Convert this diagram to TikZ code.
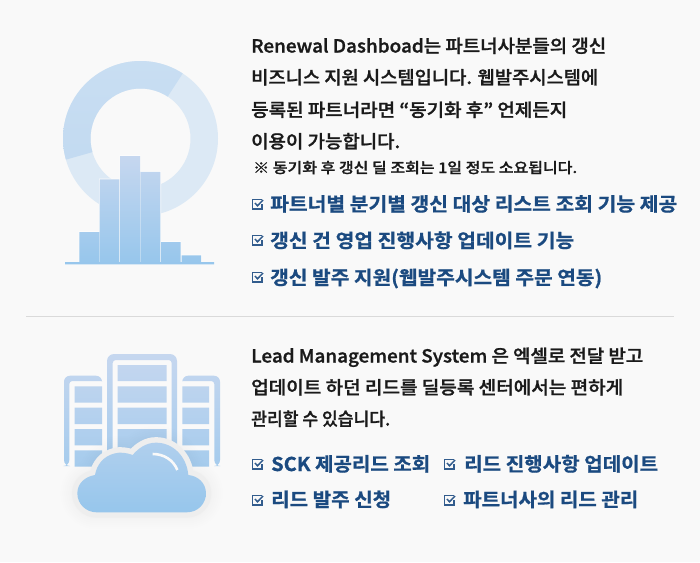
\documentclass[tikz,border=0pt]{standalone}
\usepackage{fontspec}
\usepackage{graphicx}
\setmainfont{Noto Sans CJK KR}
\newfontfamily\bodyf[FakeBold=1.2]{Noto Sans CJK KR Medium}
\newfontfamily\listf[FakeBold=0.8]{Noto Sans CJK KR Bold}
\definecolor{bg}{HTML}{F9F9F9}
\definecolor{ink}{HTML}{1A1A1A}
\definecolor{navy}{HTML}{1B4A80}
\definecolor{rule}{HTML}{DADADA}
\definecolor{ringdark}{HTML}{BFD8F0}
\definecolor{ringlight}{HTML}{DCE9F5}
\definecolor{gtop}{HTML}{C6D7EF}
\definecolor{gbot}{HTML}{96C6EC}
\definecolor{halo}{HTML}{F5F5F5}
\newcommand\fitw[2]{\resizebox{#1pt}{\height}{#2}}
\newcommand\cloudp{(170,517) -- (440,517)
    .. controls (475,517) and (498,490) .. (498,460)
    .. controls (498,430) and (475,408) .. (445,405)
    .. controls (440,350) and (400,308) .. (348,308)
    .. controls (318,308) and (295,325) .. (278,345)
    .. controls (260,338) and (240,336) .. (225,340)
    .. controls (190,348) and (170,375) .. (165,405)
    .. controls (135,410) and (112,430) .. (112,460)
    .. controls (112,492) and (138,517) .. (170,517) -- cycle}
\tikzset{
  x=1pt,y=-1pt,
  body/.style={anchor=base west,inner sep=0pt,text=ink,font=\bodyf\fontsize{18}{20}\selectfont},
  note/.style={anchor=base west,inner sep=0pt,text=ink,font=\bodyf\fontsize{14.5}{16}\selectfont},
  item/.style={anchor=base west,inner sep=0pt,text=navy,font=\listf\fontsize{19}{22}\selectfont},
  tick/.style={draw=navy!90!white,line width=1.2pt}
}
\newcommand\checkicon[2]{%
  \begin{scope}[shift={(#1,#2)}]
    \draw[tick] (10,0.5) -- (0.5,0.5) -- (0.5,10) -- (10,10) -- (10,5);
    \draw[tick,line width=1.5pt] (3,4) -- (5.5,6.8) -- (11,1);
  \end{scope}}
\begin{document}
\begin{tikzpicture}
\useasboundingbox (0,0) rectangle (700,562);
\fill[bg] (0,0) rectangle (700,562);

% donut
\fill[ringlight,even odd rule] (140.5,138.5) circle (77.5) (140.5,138.5) circle (50);
\begin{scope}
  \clip (140.5,138.5) -- (140.5+120*0.5446,138.5-120*0.8387) -- (140.5-120,138.5-120) -- (140.5-120,138.5+34) -- cycle;
  \shade[even odd rule,top color=ringdark!85!white,bottom color=ringdark] (140.5,138.5) circle (77.5) (140.5,138.5) circle (50);
\end{scope}

% bars
\fill[bg!50!white]
  (78.5,231) rectangle (99.5,264) (99,178.5) rectangle (120,264) (119.5,155) rectangle (140.5,264)
  (140,170.8) rectangle (161,264) (160.5,241) rectangle (181.2,264) (181,254.5) rectangle (202,264);
\begin{scope}
  \clip (79.3,232) rectangle (99,264) (99.7,179.3) rectangle (119.3,264) (120,156) rectangle (140,264)
    (140.7,171.8) rectangle (160.3,264) (161,242) rectangle (180.7,264) (181.7,255.3) rectangle (201,264)
    (65,262) rectangle (214,264.3);
  \shade[top color=gtop,bottom color=gbot] (60,156) rectangle (220,265);
\end{scope}

% servers
\begin{scope}
  \clip [rounded corners=6pt] (102,381) -- (102,375.7) -- (64,375.7) -- (64,466) -- (69.3,466) [rounded corners=3pt] -- (69.3,381) [sharp corners] -- cycle
     [rounded corners=6pt] (182.3,381) -- (182.3,375.7) -- (220,375.7) -- (220,466) -- (214.3,466) [rounded corners=3pt] -- (214.3,381) [sharp corners] -- cycle
     [rounded corners=7pt] (107,462) -- (107,354) -- (177,354) [sharp corners] -- (177,462) -- (171.7,462) [rounded corners=3pt] -- (171.7,360) -- (112.7,360) [sharp corners] -- (112.7,462) -- cycle
     (74.7,386.3) rectangle (102,402.7) (74.7,407.7) rectangle (102,424)
     (74.7,429) rectangle (102,445.3) (74.7,450.3) rectangle (102,466.7)
     (182.3,386.3) rectangle (209,402.7) (182.3,407.7) rectangle (209,424)
     (182.3,429) rectangle (209,445.3) (182.3,450.3) rectangle (209,466.7)
     (117.7,365) rectangle (166.7,381) (117.7,386.3) rectangle (166.7,402.7)
     (117.7,407.7) rectangle (166.7,424) (117.7,429) rectangle (166.7,462);
  \shade[top color=gtop,bottom color=gbot!70!gtop] (60,354) rectangle (225,470);
\end{scope}

% cloud
\begin{scope}[shift={(40,340)},x=0.3333pt,y=-0.3333pt]
  \draw[halo,line width=11pt,line join=round] \cloudp;
  \foreach \w in {34,30,26,22,18,14,10}{
    \draw[black,opacity=0.004,line width=\w pt,line join=round] \cloudp;
  }
  \begin{scope}
    \clip \cloudp;
    \shade[top color=gtop!55!gbot,bottom color=gbot] (100,305) rectangle (510,520);
  \end{scope}
  \draw[bg,line width=2.6pt] (338,342) .. controls (372,342) and (400,360) .. (412,390);
\end{scope}

\draw[rule,line width=0.8pt] (26,316.5) -- (674,316.5);

% text block 1
\node[body] (t1) at (251,52.5) {\fitw{355}{Renewal Dashboad는 파트너사분들의 갱신}};
\node[body] (t2) at (251,84) {\fitw{347}{비즈니스 지원 시스템입니다. 웹발주시스템에}};
\node[body] (t3) at (251,116.5) {\fitw{316}{등록된 파트너라면 “동기화 후” 언제든지}};
\node[body] (t4) at (251,148) {\fitw{149}{이용이 가능합니다.}};
\node[note] (t5) at (253,173) {\fitw{324}{※ 동기화 후 갱신 딜 조회는 1일 정도 소요됩니다.}};

\checkicon{252}{199}
\node[item] (b1) at (270,211) {\fitw{407}{파트너별 분기별 갱신 대상 리스트 조회 기능 제공}};
\checkicon{252}{235}
\node[item] (b2) at (270,247.5) {\fitw{304}{갱신 건 영업 진행사항 업데이트 기능}};
\checkicon{252}{272}
\node[item] (b3) at (270,284.5) {\fitw{332}{갱신 발주 지원(웹발주시스템 주문 연동)}};

% text block 2
\node[body] (s1) at (251,362.5) {\fitw{392}{Lead Management System 은 엑셀로 전달 받고}};
\node[body] (s2) at (251,394) {\fitw{372}{업데이트 하던 리드를 딜등록 센터에서는 편하게}};
\node[body] (s3) at (251,425.5) {\fitw{139}{관리할 수 있습니다.}};

\checkicon{252}{459}
\node[item] (c1) at (271,471) {\fitw{159}{SCK 제공리드 조회}};
\checkicon{444}{459}
\node[item] (c2) at (464,471) {\fitw{194}{리드 진행사항 업데이트}};
\checkicon{252}{495}
\node[item] (c3) at (271,506.5) {\fitw{120}{리드 발주 신청}};
\checkicon{444}{495}
\node[item] (c4) at (463,506.5) {\fitw{175}{파트너사의 리드 관리}};
\end{tikzpicture}
\end{document}
